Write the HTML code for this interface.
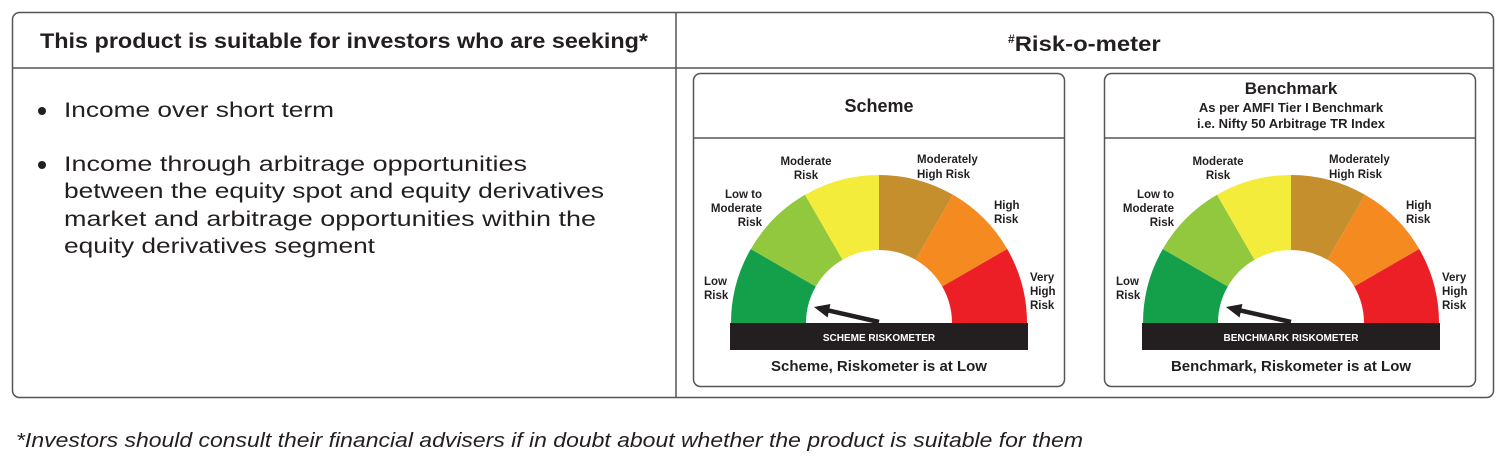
<!DOCTYPE html>
<html><head><meta charset="utf-8"><style>
body{margin:0;background:#fff;width:1504px;height:476px;overflow:hidden}
svg{display:block;font-family:"Liberation Sans",sans-serif}
</style></head><body>
<svg width="1504" height="476" viewBox="0 0 1504 476">
<defs>
<g id="gauge">
<path d="M-148,0 A148 148 0 0 1 -128.2,-74 L-63.2,-36.5 A73 73 0 0 0 -73,0Z" fill="#14a04b"/>
<path d="M-128.2,-74 A148 148 0 0 1 -74,-128.2 L-36.5,-63.2 A73 73 0 0 0 -63.2,-36.5Z" fill="#92c83e"/>
<path d="M-74,-128.2 A148 148 0 0 1 0,-148 L0,-73 A73 73 0 0 0 -36.5,-63.2Z" fill="#f4ec3a"/>
<path d="M0,-148 A148 148 0 0 1 74,-128.2 L36.5,-63.2 A73 73 0 0 0 0,-73Z" fill="#c68f2e"/>
<path d="M74,-128.2 A148 148 0 0 1 128.2,-74 L63.2,-36.5 A73 73 0 0 0 36.5,-63.2Z" fill="#f48a20"/>
<path d="M128.2,-74 A148 148 0 0 1 148,0 L73,0 A73 73 0 0 0 63.2,-36.5Z" fill="#ec1f26"/>
<line x1="0" y1="-1" x2="-54" y2="-13.3" stroke="#231f20" stroke-width="4.5"/>
<polygon points="-65,-16 -48.6,-19 -51.4,-5.5" fill="#231f20"/>
<g font-size="11.5" font-weight="bold" fill="#231f20">
<text x="-73" y="-158" text-anchor="middle">Moderate</text>
<text x="-73" y="-144" text-anchor="middle">Risk</text>
<text x="38" y="-160">Moderately</text>
<text x="38" y="-145">High Risk</text>
<text x="-117" y="-125" text-anchor="end">Low to</text>
<text x="-117" y="-111" text-anchor="end">Moderate</text>
<text x="-117" y="-97" text-anchor="end">Risk</text>
<text x="115" y="-114">High</text>
<text x="115" y="-100">Risk</text>
<text x="151" y="-42">Very</text>
<text x="151" y="-28">High</text>
<text x="151" y="-14">Risk</text>
<text x="-175" y="-38">Low</text>
<text x="-175" y="-24">Risk</text>
</g>
<rect x="-149" y="0" width="298" height="27" fill="#231f20"/>
</g>
</defs>
<rect x="12.5" y="12.5" width="1481" height="385" rx="7" fill="#fff" stroke="#555" stroke-width="1.5"/>
<line x1="12" y1="68" x2="1493" y2="68" stroke="#555" stroke-width="1.5"/>
<line x1="676" y1="12" x2="676" y2="397" stroke="#555" stroke-width="1.5"/>
<text x="40" y="48" textLength="608" lengthAdjust="spacingAndGlyphs" font-size="21" font-weight="bold" fill="#231f20">This product is suitable for investors who are seeking*</text>
<text x="1008" y="51" font-size="21" font-weight="bold" fill="#231f20"><tspan font-size="12" dy="-8">#</tspan><tspan dy="8" textLength="146" lengthAdjust="spacingAndGlyphs">Risk-o-meter</tspan></text>
<g font-size="21" fill="#231f20">
<circle cx="42" cy="111" r="4"/>
<text x="64" y="117" textLength="270" lengthAdjust="spacingAndGlyphs">Income over short term</text>
<circle cx="42" cy="165" r="4"/>
<text x="64" y="171" textLength="463" lengthAdjust="spacingAndGlyphs">Income through arbitrage opportunities</text>
<text x="64" y="198" textLength="540" lengthAdjust="spacingAndGlyphs">between the equity spot and equity derivatives</text>
<text x="64" y="226" textLength="532" lengthAdjust="spacingAndGlyphs">market and arbitrage opportunities within the</text>
<text x="64" y="253" textLength="311" lengthAdjust="spacingAndGlyphs">equity derivatives segment</text>
</g>
<rect x="693.5" y="73.5" width="371" height="313" rx="7" fill="#fff" stroke="#555" stroke-width="1.5"/>
<line x1="693" y1="138" x2="1065" y2="138" stroke="#555" stroke-width="1.5"/>
<text x="879" y="112" text-anchor="middle" font-size="18" font-weight="bold" fill="#231f20">Scheme</text>
<use href="#gauge" x="879" y="323"/>
<text x="879" y="341" text-anchor="middle" font-size="10" font-weight="bold" fill="#fff">SCHEME RISKOMETER</text>
<text x="879" y="371" text-anchor="middle" font-size="15" font-weight="bold" fill="#231f20">Scheme, Riskometer is at Low</text>
<rect x="1104.5" y="73.5" width="371" height="313" rx="7" fill="#fff" stroke="#555" stroke-width="1.5"/>
<line x1="1104" y1="138" x2="1476" y2="138" stroke="#555" stroke-width="1.5"/>
<text x="1291" y="94" text-anchor="middle" font-size="17" font-weight="bold" fill="#231f20">Benchmark</text>
<text x="1291" y="112" text-anchor="middle" font-size="13" font-weight="bold" fill="#231f20">As per AMFI Tier I Benchmark</text>
<text x="1291" y="128" text-anchor="middle" font-size="13" font-weight="bold" fill="#231f20">i.e. Nifty 50 Arbitrage TR Index</text>
<use href="#gauge" x="1291" y="323"/>
<text x="1291" y="341" text-anchor="middle" font-size="10" font-weight="bold" fill="#fff">BENCHMARK RISKOMETER</text>
<text x="1291" y="371" text-anchor="middle" font-size="15" font-weight="bold" fill="#231f20">Benchmark, Riskometer is at Low</text>
<text x="16" y="447" textLength="1067" lengthAdjust="spacingAndGlyphs" font-size="20" font-style="italic" fill="#231f20">*Investors should consult their financial advisers if in doubt about whether the product is suitable for them</text>
</svg>
</body></html>
